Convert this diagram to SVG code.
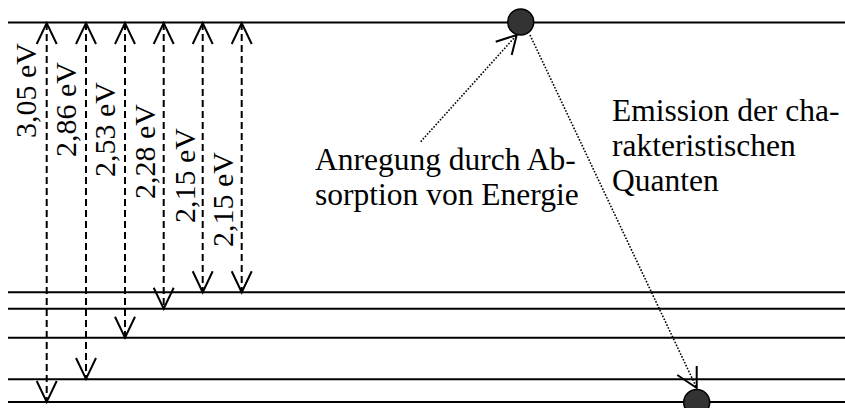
<svg xmlns="http://www.w3.org/2000/svg" width="845" height="408" viewBox="0 0 845 408">
<style>
.lvl{stroke:#000;stroke-width:2;fill:none}
.tr{stroke:#000;stroke-width:2;stroke-dasharray:7 4;fill:none}
.dot{stroke:#000;stroke-width:1.6;stroke-dasharray:1.6 1.6;fill:none}
.head{stroke:#000;stroke-width:2;fill:none}
.el{fill:#333;stroke:#000;stroke-width:1.5}
</style>
<rect width="845" height="408" fill="#fff"/>
<g id="levels">
<line class="lvl" x1="8" y1="22.5" x2="845" y2="22.5"/>
<line class="lvl" x1="8" y1="292.3" x2="845" y2="292.3"/>
<line class="lvl" x1="8" y1="308.7" x2="845" y2="308.7"/>
<line class="lvl" x1="8" y1="337.7" x2="845" y2="337.7"/>
<line class="lvl" x1="8" y1="379.3" x2="845" y2="379.3"/>
<line class="lvl" x1="8" y1="402" x2="845" y2="402"/>
</g>
<g id="connectors">
<g id="t305"><line class="tr" x1="46.7" y1="23" x2="46.7" y2="402"/><path class="head" d="M36.7,44 L46.7,23 L56.7,44 M36.7,381 L46.7,402 L56.7,381"/></g>
<g id="t286"><line class="tr" x1="86" y1="23" x2="86" y2="379"/><path class="head" d="M76,44 L86,23 L96,44 M76,358 L86,379 L96,358"/></g>
<g id="t253"><line class="tr" x1="125" y1="23" x2="125" y2="337.7"/><path class="head" d="M115,44 L125,23 L135,44 M115,316.7 L125,337.7 L135,316.7"/></g>
<g id="t228"><line class="tr" x1="163.7" y1="23" x2="163.7" y2="308.7"/><path class="head" d="M153.7,44 L163.7,23 L173.7,44 M153.7,287.7 L163.7,308.7 L173.7,287.7"/></g>
<g id="t215a"><line class="tr" x1="202.7" y1="23" x2="202.7" y2="292.3"/><path class="head" d="M192.7,44 L202.7,23 L212.7,44 M192.7,271.3 L202.7,292.3 L212.7,271.3"/></g>
<g id="t215b"><line class="tr" x1="241.7" y1="23" x2="241.7" y2="292.3"/><path class="head" d="M231.7,44 L241.7,23 L251.7,44 M231.7,271.3 L241.7,292.3 L251.7,271.3"/></g>
<g id="absorption"><line class="dot" x1="420.7" y1="141.7" x2="516.7" y2="35"/><path class="head" d="M495.7,41.7 L516.7,35 L511.7,55"/></g>
<g id="emission"><line class="dot" x1="530" y1="35" x2="696.7" y2="388"/><path class="head" d="M696.7,366 L696.7,388 L677.3,375"/></g>
</g>
<g id="labels" font-family="Liberation Serif, Times New Roman, serif" font-size="30" fill="#000">
<text transform="translate(36,138) rotate(-90)">3,05 eV</text>
<text transform="translate(76,157) rotate(-90)">2,86 eV</text>
<text transform="translate(115,177) rotate(-90)">2,53 eV</text>
<text transform="translate(155,199) rotate(-90)">2,28 eV</text>
<text transform="translate(195,223) rotate(-90)">2,15 eV</text>
<text transform="translate(233,247) rotate(-90)">2,15 eV</text>
</g>
<g id="electron-top"><circle class="el" cx="520.7" cy="22" r="13"/></g>
<g id="electron-bottom"><circle class="el" cx="696.7" cy="402.5" r="13"/></g>
<g id="text-absorption" font-family="Liberation Serif, Times New Roman, serif" font-size="31.5" fill="#000"><text x="315" y="170">Anregung durch Ab-</text><text x="315" y="205">sorption von Energie</text></g>
<g id="text-emission" font-family="Liberation Serif, Times New Roman, serif" font-size="31.5" fill="#000"><text x="612" y="121">Emission der cha-</text><text x="612" y="156">rakteristischen</text><text x="612" y="191">Quanten</text></g>
</svg>
